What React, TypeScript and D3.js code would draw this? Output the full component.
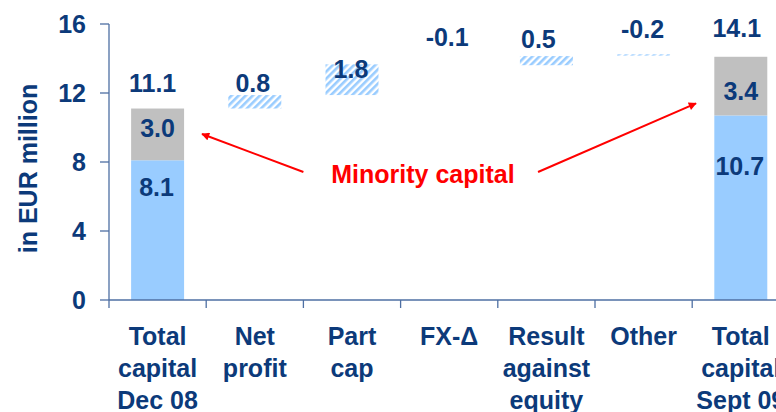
import React from "react";
import * as d3 from "d3";

// ---------- data ----------
const categories = [
  "Total capital Dec 08",
  "Net profit",
  "Part cap",
  "FX-Δ",
  "Result against equity",
  "Other",
  "Total capital Sept 09",
];
const categoryLines = [
  ["Total", "capital", "Dec 08"],
  ["Net", "profit"],
  ["Part", "cap"],
  ["FX-Δ"],
  ["Result", "against", "equity"],
  ["Other"],
  ["Total", "capital", "Sept 09"],
];
// stacked totals (index 0 and 6)
const totalIndex = [0, 6];
const majorityValues = [8.1, 10.7];
const minorityValues = [3.0, 3.4];
const totalValues = [11.1, 14.1];
const majorityLabels = ["8.1", "10.7"];
const minorityLabels = ["3.0", "3.4"];
const totalLabels = ["11.1", "14.1"];
// bridge steps (index 1..5)
const stepIndex = [1, 2, 3, 4, 5];
const stepLow = [11.1, 11.88, 13.6, 13.61, 14.17];
const stepHigh = [11.88, 13.66, 13.6, 14.14, 14.24];
const stepLabels = ["0.8", "1.8", "-0.1", "0.5", "-0.2"];
const yTicks = [0, 4, 8, 12, 16];
const annotationText = "Minority capital";

// ---------- layout / style ----------
const W = 776;
const H = 412;
const NAVY = "#0c3a7a";
const AXIS = "#4e6fa3";
const BLUE = "#99ccff";
const GRAY = "#c0c0c0";
const RED = "#ff0000";
const FONT = "'Liberation Sans', Arial, sans-serif";
const FS = 25;

export default function App() {
  const step = 97.2;
  const x0 = 109;
  const x = d3
    .scaleBand<string>()
    .domain(categories)
    .range([x0, x0 + step * categories.length])
    .padding(0);
  const y = d3.scaleLinear().domain([0, 16]).range([300, 24]);
  const barW = x.bandwidth() * 0.545;
  const cx = (i: number) => (x(categories[i]) as number) + x.bandwidth() / 2;
  const px = (pos: number) => x0 + pos * x.step();

  // label offsets (px) relative to top of their mark
  const totalLabelOff = [-17, -20];
  const totalLabelDx = [-5, -4];
  const minorityOff = [28, 43];
  const majorityOff = [36, 60];
  const stepLabelOff = [-3.5, 14, -19, -8, -16];
  const stepLabelDx = [-2, -1, -2, -8, -1];

  const arrows = [
    { from: [2.0, 7.42], to: [0.957, 9.62] },
    { from: [4.414, 7.42], to: [6.039, 11.4] },
  ];

  return (
    <svg
      width={W}
      height={H}
      style={{ position: "absolute", left: 0, top: 0, overflow: "hidden" }}
      fontFamily={FONT}
      fontWeight="bold"
    >
      <defs>
        <pattern
          id="hatch"
          width="5"
          height="5"
          patternUnits="userSpaceOnUse"
          patternTransform="rotate(45)"
        >
          <rect width="5" height="5" fill="#ffffff" />
          <rect width="2.6" height="5" fill={BLUE} />
        </pattern>
        <marker
          id="arrowhead"
          viewBox="0 0 10 10"
          refX="9"
          refY="5"
          markerWidth="5"
          markerHeight="4"
          orient="auto"
          markerUnits="strokeWidth"
        >
          <path d="M0,0 L10,5 L0,10 z" fill={RED} />
        </marker>
      </defs>

      {/* stacked total bars */}
      {totalIndex.map((ci, k) => {
        const c = cx(ci);
        return (
          <g key={"t" + k}>
            <rect
              x={c - barW / 2}
              y={y(majorityValues[k])}
              width={barW}
              height={y(0) - y(majorityValues[k])}
              fill={BLUE}
            />
            <rect
              x={c - barW / 2}
              y={y(totalValues[k])}
              width={barW}
              height={y(majorityValues[k]) - y(totalValues[k])}
              fill={GRAY}
            />
            <text
              x={c + totalLabelDx[k]}
              y={y(totalValues[k]) + totalLabelOff[k]}
              textAnchor="middle"
              fontSize={FS}
              fill={NAVY}
            >
              {totalLabels[k]}
            </text>
            <text
              x={c}
              y={y(totalValues[k]) + minorityOff[k]}
              textAnchor="middle"
              fontSize={FS}
              fill={NAVY}
            >
              {minorityLabels[k]}
            </text>
            <text
              x={c - 1}
              y={y(majorityValues[k]) + majorityOff[k]}
              textAnchor="middle"
              fontSize={FS}
              fill={NAVY}
            >
              {majorityLabels[k]}
            </text>
          </g>
        );
      })}

      {/* bridge steps */}
      {stepIndex.map((ci, k) => {
        const c = cx(ci);
        const top = y(stepHigh[k]);
        const h = y(stepLow[k]) - top;
        return (
          <g key={"s" + k}>
            {h > 0 && (
              <rect
                x={c - barW / 2}
                y={top}
                width={barW}
                height={h}
                fill="url(#hatch)"
              />
            )}
            <text
              x={c + stepLabelDx[k]}
              y={top + stepLabelOff[k]}
              textAnchor="middle"
              fontSize={FS}
              fill={NAVY}
            >
              {stepLabels[k]}
            </text>
          </g>
        );
      })}

      {/* y axis */}
      <line x1={x0} x2={x0} y1={y(16)} y2={y(0)} stroke={AXIS} strokeWidth={1.3} />
      {yTicks.map((t) => (
        <g key={"y" + t}>
          <line x1={x0 - 9} x2={x0} y1={y(t)} y2={y(t)} stroke={AXIS} strokeWidth={1.3} />
          <text
            x={86}
            y={y(t)}
            dy="0.36em"
            textAnchor="end"
            fontSize={FS}
            fill={NAVY}
          >
            {t}
          </text>
        </g>
      ))}
      <text
        transform={`translate(36.5,168.5) rotate(-90)`}
        textAnchor="middle"
        fontSize={FS}
        fill={NAVY}
      >
        in EUR million
      </text>

      {/* x axis */}
      <line x1={x0} x2={W} y1={y(0)} y2={y(0)} stroke={AXIS} strokeWidth={1.3} />
      {categories.map((c, i) => (
        <line
          key={"xt" + i}
          x1={x(c) as number}
          x2={x(c) as number}
          y1={y(0)}
          y2={y(0) + 8}
          stroke={AXIS}
          strokeWidth={1.3}
        />
      ))}
      {categoryLines.map((lines, i) => (
        <text
          key={"xl" + i}
          x={cx(i)}
          y={345}
          textAnchor="middle"
          fontSize={FS}
          fill={NAVY}
        >
          {lines.map((ln, j) => (
            <tspan key={j} x={cx(i)} y={345 + j * 32}>
              {ln}
            </tspan>
          ))}
        </text>
      ))}

      {/* annotation */}
      {arrows.map((a, i) => (
        <line
          key={"a" + i}
          x1={px(a.from[0])}
          y1={y(a.from[1])}
          x2={px(a.to[0])}
          y2={y(a.to[1])}
          stroke={RED}
          strokeWidth={2}
          markerEnd="url(#arrowhead)"
        />
      ))}
      <text
        x={px(3.23)}
        y={y(6.78)}
        textAnchor="middle"
        fontSize={FS}
        fill={RED}
      >
        {annotationText}
      </text>
    </svg>
  );
}
